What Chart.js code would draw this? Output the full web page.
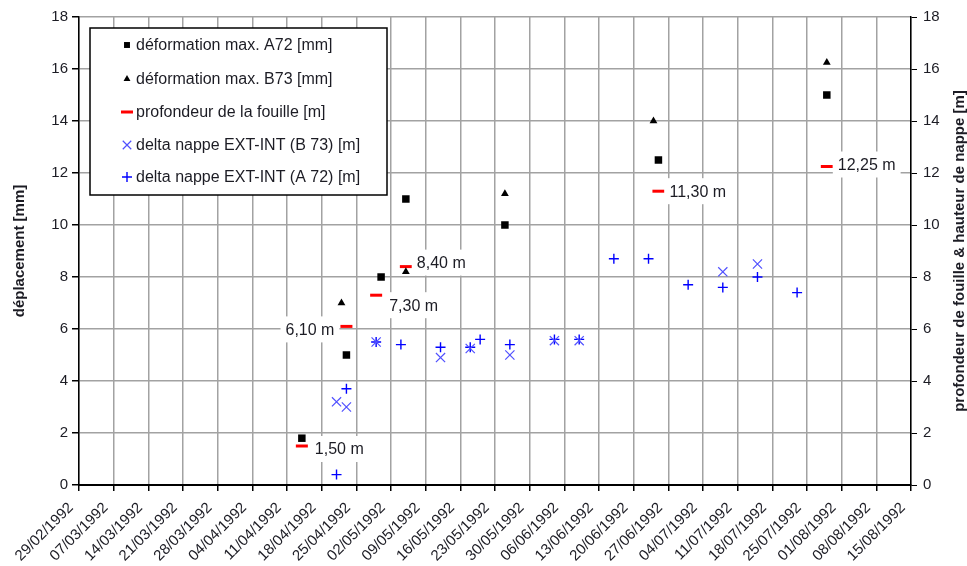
<!DOCTYPE html>
<html>
<head>
<meta charset="utf-8">
<script src="https://cdn.jsdelivr.net/npm/chart.js@4.4.0/dist/chart.umd.min.js"></script>
<style>
  html, body { margin: 0; padding: 0; background: #fff; }
  canvas { display: block; }
</style>
</head>
<body>
<canvas id="chart" width="967" height="566"></canvas>
<script>
// weekly ticks on the date axis
const tickLabels = ['29/02/1992', '07/03/1992', '14/03/1992', '21/03/1992', '28/03/1992', '04/04/1992',
    '11/04/1992', '18/04/1992', '25/04/1992', '02/05/1992', '09/05/1992', '16/05/1992', '23/05/1992',
    '30/05/1992', '06/06/1992', '13/06/1992', '20/06/1992', '27/06/1992', '04/07/1992', '11/07/1992',
    '18/07/1992', '25/07/1992', '01/08/1992', '08/08/1992', '15/08/1992'];

// déformation max. A72 [mm]
const datesA72 = ['14/04/1992', '23/04/1992', '30/04/1992', '05/05/1992', '25/05/1992', '25/06/1992', '29/07/1992'];
const deformA72 = [1.8, 5.0, 8.0, 11.0, 10.0, 12.5, 15.0];

// déformation max. B73 [mm]
const datesB73 = ['22/04/1992', '05/05/1992', '25/05/1992', '24/06/1992', '29/07/1992'];
const deformB73 = [7.0, 8.2, 11.2, 14.0, 16.25];

// profondeur de la fouille [m]
const datesFouille = ['14/04/1992', '23/04/1992', '29/04/1992', '05/05/1992', '25/06/1992', '29/07/1992'];
const profFouille = [1.50, 6.10, 7.30, 8.40, 11.30, 12.25];

// delta nappe EXT-INT (B 73) [m]
const datesNappeB73 = ['21/04/1992', '23/04/1992', '29/04/1992', '12/05/1992', '18/05/1992', '26/05/1992',
    '04/06/1992', '09/06/1992', '08/07/1992', '15/07/1992'];
const nappeB73 = [3.2, 3.0, 5.5, 4.9, 5.25, 5.0, 5.55, 5.55, 8.2, 8.5];

// delta nappe EXT-INT (A 72) [m]
const datesNappeA72 = ['21/04/1992', '23/04/1992', '29/04/1992', '04/05/1992', '12/05/1992', '18/05/1992',
    '20/05/1992', '26/05/1992', '04/06/1992', '09/06/1992', '16/06/1992', '23/06/1992', '01/07/1992',
    '08/07/1992', '15/07/1992', '23/07/1992'];
const nappeA72 = [0.4, 3.7, 5.5, 5.4, 5.3, 5.3, 5.6, 5.4, 5.6, 5.6, 8.7, 8.7, 7.7, 7.6, 8.0, 7.4];

// days since 29/02/1992
function dayOf(s) {
    const [d, m, y] = s.split('/').map(Number);
    return (Date.UTC(y, m - 1, d) - Date.UTC(1992, 1, 29)) / 86400000;
}
function points(dates, values) {
    return dates.map((d, i) => ({ x: dayOf(d), y: values[i] }));
}

const FONT = 'Liberation Sans, Arial, sans-serif';
const TEXT = '#1c1c24';
const GRID = '#a2a2a2';

// where each depth label sits relative to its red dash
const labelOffsets = [
    { side: 'right', dx: 13, dy: 3 },
    { side: 'left', dx: -12, dy: 3 },
    { side: 'right', dx: 13, dy: 10 },
    { side: 'right', dx: 11, dy: -4 },
    { side: 'right', dx: 11, dy: 0 },
    { side: 'right', dx: 11, dy: -2 }
];

const decor = {
    id: 'decor',
    afterDatasetsDraw(chart) {
        const ctx = chart.ctx;
        const xs = chart.scales.x, ys = chart.scales.y2;

        // depth labels with white background
        ctx.save();
        ctx.font = '16px ' + FONT;
        ctx.textBaseline = 'middle';
        profFouille.forEach((v, i) => {
            const txt = v.toFixed(2).replace('.', ',') + ' m';
            const w = ctx.measureText(txt).width;
            const px = xs.getPixelForValue(dayOf(datesFouille[i]));
            const py = ys.getPixelForValue(v);
            const o = labelOffsets[i];
            const tx = o.side === 'right' ? px + o.dx : px + o.dx - w;
            const ty = py + o.dy;
            ctx.fillStyle = '#fff';
            ctx.fillRect(tx - 5, ty - 13, w + 10, 26);
            ctx.fillStyle = TEXT;
            ctx.textAlign = 'left';
            ctx.fillText(txt, tx, ty + 1);
        });
        ctx.restore();

        // legend box
        ctx.save();
        ctx.fillStyle = '#fff';
        ctx.fillRect(90, 28, 297, 167);
        ctx.strokeStyle = '#000';
        ctx.lineWidth = 1.5;
        ctx.strokeRect(90, 28, 297, 167);
        const rows = [45, 79, 112, 145, 177];
        const legendMarks = [
            { style: 'rect', r: 4.2, fill: '#000', stroke: '#000', bw: 0 },
            { style: 'triangle', r: 4, fill: '#000', stroke: '#000', bw: 0 },
            { style: 'line', r: 6, fill: '#ff0000', stroke: '#ff0000', bw: 3 },
            { style: 'crossRot', r: 6, fill: '#5050ff', stroke: '#5050ff', bw: 1.2 },
            { style: 'cross', r: 5, fill: '#0000ff', stroke: '#0000ff', bw: 1.4 }
        ];
        chart.data.datasets.forEach((ds, i) => {
            const m = legendMarks[i];
            ctx.fillStyle = m.fill;
            ctx.strokeStyle = m.stroke;
            ctx.lineWidth = m.bw;
            Chart.helpers.drawPoint(ctx, { pointStyle: m.style, radius: m.r, rotation: 0, borderWidth: m.bw }, 127, rows[i]);
            ctx.fillStyle = TEXT;
            ctx.font = '16px ' + FONT;
            ctx.textAlign = 'left';
            ctx.textBaseline = 'middle';
            ctx.fillText(ds.label, 136, rows[i] + 1);
        });
        ctx.restore();
    },
    afterDraw(chart) {
        const ctx = chart.ctx;
        const a = chart.chartArea;
        const cy = (a.top + a.bottom) / 2;
        ctx.save();
        ctx.fillStyle = TEXT;
        ctx.font = 'bold 15px ' + FONT;
        ctx.textAlign = 'center';
        ctx.textBaseline = 'middle';
        ctx.translate(20, cy);
        ctx.rotate(-Math.PI / 2);
        ctx.fillText('déplacement [mm]', 0, 0);
        ctx.restore();
        ctx.save();
        ctx.fillStyle = TEXT;
        ctx.font = 'bold 15px ' + FONT;
        ctx.textAlign = 'center';
        ctx.textBaseline = 'middle';
        ctx.translate(960, cy);
        ctx.rotate(-Math.PI / 2);
        ctx.fillText('profondeur de fouille & hauteur de nappe [m]', 0, 0);
        ctx.restore();
    }
};

new Chart(document.getElementById('chart').getContext('2d'), {
    type: 'scatter',
    data: {
        datasets: [
            {
                label: 'déformation max. A72 [mm]',
                data: points(datesA72, deformA72),
                yAxisID: 'y',
                pointStyle: 'rect',
                pointRadius: 5.3,
                backgroundColor: '#000',
                borderColor: '#000',
                borderWidth: 0
            },
            {
                label: 'déformation max. B73 [mm]',
                data: points(datesB73, deformB73),
                yAxisID: 'y',
                pointStyle: 'triangle',
                pointRadius: 4.5,
                backgroundColor: '#000',
                borderColor: '#000',
                borderWidth: 0
            },
            {
                label: 'profondeur de la fouille [m]',
                data: points(datesFouille, profFouille),
                yAxisID: 'y2',
                pointStyle: 'line',
                pointRadius: 6,
                borderColor: '#ff0000',
                backgroundColor: '#ff0000',
                borderWidth: 3
            },
            {
                label: 'delta nappe EXT-INT (B 73) [m]',
                data: points(datesNappeB73, nappeB73),
                yAxisID: 'y2',
                pointStyle: 'crossRot',
                pointRadius: 6.5,
                borderColor: '#5050ff',
                backgroundColor: '#5050ff',
                borderWidth: 1.2
            },
            {
                label: 'delta nappe EXT-INT (A 72) [m]',
                data: points(datesNappeA72, nappeA72),
                yAxisID: 'y2',
                pointStyle: 'cross',
                pointRadius: 5,
                borderColor: '#0000ff',
                backgroundColor: '#0000ff',
                borderWidth: 1.4
            }
        ]
    },
    options: {
        responsive: false,
        animation: false,
        events: [],
        layout: { padding: { top: 17, left: 0, right: 0, bottom: 0 } },
        plugins: {
            legend: { display: false },
            tooltip: { enabled: false }
        },
        scales: {
            x: {
                type: 'linear',
                min: 0,
                max: 168,
                afterFit: s => { s.height = 81; },
                ticks: {
                    stepSize: 7,
                    autoSkip: false,
                    maxRotation: 45,
                    minRotation: 45,
                    padding: 8,
                    labelOffset: -8,
                    color: TEXT,
                    font: { family: FONT, size: 15 },
                    callback: v => tickLabels[Math.round(v / 7)]
                },
                grid: { color: GRID, lineWidth: 1.5, tickColor: '#000', tickLength: 6 },
                border: { color: '#000', width: 2 }
            },
            y: {
                position: 'left',
                min: 0,
                max: 18,
                afterFit: s => { s.width = 79; },
                ticks: {
                    stepSize: 2,
                    padding: 4,
                    color: TEXT,
                    font: { family: FONT, size: 15 }
                },
                grid: { color: GRID, lineWidth: 1.5, tickColor: '#000', tickLength: 7 },
                border: { color: '#000', width: 1.5 }
            },
            y2: {
                position: 'right',
                min: 0,
                max: 18,
                afterFit: s => { s.width = 56; },
                ticks: {
                    stepSize: 2,
                    padding: 6,
                    color: TEXT,
                    font: { family: FONT, size: 15 }
                },
                grid: { drawOnChartArea: false, tickColor: '#000', tickLength: 6 },
                border: { color: '#000', width: 1.5 }
            }
        }
    },
    plugins: [decor]
});
</script>
</body>
</html>
